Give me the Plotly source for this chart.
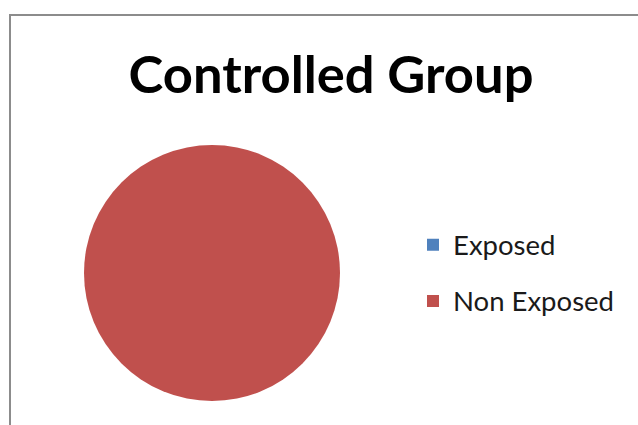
import plotly.graph_objects as go

title_text = "Controlled Group"
labels = ["Exposed", "Non Exposed"]
values = [0, 100]
colors = ["#4F81BD", "#C0504D"]

W, H = 638, 425


def px(x):
    return x / W


def py(y):
    return (H - y) / H


legend_labels = [
    '<span style="font-size:27.5px;baseline-shift:6px">%s</span>' % l for l in labels
]

fig = go.Figure(
    go.Pie(
        labels=legend_labels,
        values=values,
        sort=False,
        direction="clockwise",
        marker=dict(colors=colors, line=dict(width=0)),
        textinfo="none",
        hoverinfo="label+value",
        domain=dict(x=[px(84), px(340)], y=[py(401), py(145)]),
        showlegend=True,
    )
)

fig.update_layout(
    width=W,
    height=H,
    margin=dict(l=0, r=0, t=0, b=0),
    paper_bgcolor="white",
    plot_bgcolor="white",
    title=dict(
        text="<b>" + title_text + "</b>",
        font=dict(family="Lato", size=52.5, color="#000"),
        x=px(331),
        xanchor="center",
        y=py(75),
        yanchor="middle",
    ),
    legend=dict(
        font=dict(family="Lato", size=41, color="#1a1a1a"),
        x=px(413),
        xanchor="left",
        y=py(273),
        yanchor="middle",
        bgcolor="rgba(0,0,0,0)",
    ),
    shapes=[
        dict(
            type="rect",
            xref="paper",
            yref="paper",
            x0=px(10),
            x1=1.05,
            y0=-0.05,
            y1=py(15),
            line=dict(color="#8c8c8c", width=2),
            fillcolor="rgba(0,0,0,0)",
            layer="below",
        )
    ],
)

fig.write_html(
    "out.html",
    config={"displayModeBar": False},
    post_script="document.body.style.margin='0';document.body.style.overflow='hidden';",
)
